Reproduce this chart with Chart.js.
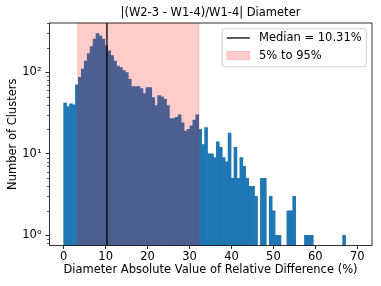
<!DOCTYPE html>
<html><head><meta charset="utf-8">
<style>html,body{margin:0;padding:0;background:#fff;overflow:hidden}canvas{display:block}</style>
<script src="https://cdn.jsdelivr.net/npm/chart.js@4.4.1/dist/chart.umd.min.js"></script>
</head><body>
<canvas id="c" width="381" height="286" style="width:381px;height:286px"></canvas>
<script>
// ---- data ----
const titleText = '|(W2-3 - W1-4)/W1-4| Diameter';
const xLabel = 'Diameter Absolute Value of Relative Difference (%)';
const yLabel = 'Number of Clusters';
const binStart = 0;
const binWidth = 0.7;
const counts = [
  42, 38, 41, 40, 70, 87, 110, 137, 170, 207,
  255, 298, 280, 255, 212, 184, 160, 137, 119, 114,
  105, 99, 82, 67, 67, 67, 63, 55, 65, 65,
  49, 39, 52, 50, 47, 39, 27, 27, 28, 30,
  24, 19, 20, 22, 26, 30, 20, 13, 21, 10,
  10, 9, 14, 12, 9, 8, 18, 5, 12, 5,
  9, 7, 5, 4, 4, 3, 0, 5, 5, 0,
  3, 2, 1, 1, 0, 0, 2, 2, 3, 0,
  0, 0, 1, 1, 1, 0, 0, 0, 0, 0,
  0, 0, 0, 0, 0, 1, 0, 0, 0, 0
];
const xTicks = [0, 10, 20, 30, 40, 50, 60, 70];
const yTicks = [1, 10, 100];
const yTickLabels = ['10\u2070', '10\u00B9', '10\u00B2'];
const medianValue = 10.31;
const spanLow = 3.35;
const spanHigh = 32.23;
const legendLabels = ['Median = 10.31%', '5% to 95%'];
const xRange = [-3.5, 73.5];
const yRange = [0.75, 403];

// ---- style ----
const FONT = '"DejaVu Sans", sans-serif';
const FS = 11.5;
const BAR = '#1f77b4';
const SPAN = 'rgba(255,0,0,0.2)';

const points = counts.map((c, i) => ({ x: binStart + (i + 0.5) * binWidth, y: c > 0 ? c : null }));

const overlay = {
  id: 'overlay',
  afterDatasetsDraw(chart) {
    const { ctx, chartArea: a, scales: { x, y } } = chart;
    ctx.save();
    ctx.beginPath(); ctx.rect(a.left, a.top, a.right - a.left, a.bottom - a.top); ctx.clip();
    // span
    const x0 = x.getPixelForValue(spanLow), x1 = x.getPixelForValue(spanHigh);
    ctx.fillStyle = SPAN;
    ctx.fillRect(x0, a.top, x1 - x0, a.bottom - a.top);
    ctx.strokeStyle = SPAN; ctx.lineWidth = 0.8;
    ctx.strokeRect(x0, a.top, x1 - x0, a.bottom - a.top);
    // median
    const xm = x.getPixelForValue(medianValue);
    ctx.strokeStyle = '#000'; ctx.lineWidth = 1.3;
    ctx.beginPath(); ctx.moveTo(xm, a.top); ctx.lineTo(xm, a.bottom); ctx.stroke();
    ctx.restore();
  },
  afterDraw(chart) {
    const { ctx, chartArea: a, scales: { y } } = chart;
    ctx.save();
    // minor log ticks
    ctx.strokeStyle = 'rgba(0,0,0,0.8)'; ctx.lineWidth = 0.8;
    for (let d = 0.1; d <= 1000; d *= 10) {
      for (let m = 2; m <= 9; m++) {
        const v = m * d;
        if (v < yRange[0] || v > yRange[1]) continue;
        const py = Math.round(y.getPixelForValue(v)) + 0.5;
        ctx.beginPath(); ctx.moveTo(a.left - 2, py); ctx.lineTo(a.left, py); ctx.stroke();
      }
    }
    // frame
    ctx.strokeStyle = '#000'; ctx.lineWidth = 0.8;
    ctx.strokeRect(a.left + 0.5, a.top, a.right - a.left - 0.5, a.bottom - a.top);
    // title
    ctx.fillStyle = '#000';
    ctx.font = FS + 'px ' + FONT;
    ctx.textAlign = 'center'; ctx.textBaseline = 'alphabetic';
    ctx.fillText(titleText, (a.left + a.right) / 2, a.top - 7.5);
    // legend
    const pad = 0.4 * FS, hl = 2 * FS, htp = 0.8 * FS, ls = 0.5 * FS, bap = 0.5 * FS;
    const tw = Math.max(...legendLabels.map(t => ctx.measureText(t).width));
    const w = 2 * pad + hl + htp + tw, h = 2 * pad + 2 * FS + ls;
    const bx = a.right - bap - w, by = a.top + bap;
    ctx.beginPath();
    if (ctx.roundRect) ctx.roundRect(bx, by, w, h, 2.5); else ctx.rect(bx, by, w, h);
    ctx.fillStyle = 'rgba(255,255,255,0.8)'; ctx.fill();
    ctx.strokeStyle = '#cccccc'; ctx.lineWidth = 0.9; ctx.stroke();
    const r1 = by + 0.8 * FS, r2 = r1 + FS + ls + 0.25;
    const hx = bx + pad;
    ctx.strokeStyle = '#000'; ctx.lineWidth = 1.3;
    ctx.beginPath(); ctx.moveTo(hx, r1); ctx.lineTo(hx + hl, r1); ctx.stroke();
    ctx.fillStyle = SPAN; ctx.fillRect(hx, r2 - 0.35 * FS, hl, 0.7 * FS);
    ctx.strokeStyle = SPAN; ctx.lineWidth = 0.8; ctx.strokeRect(hx, r2 - 0.35 * FS, hl, 0.7 * FS);
    ctx.fillStyle = '#000'; ctx.textAlign = 'left'; ctx.textBaseline = 'middle';
    ctx.fillText(legendLabels[0], hx + hl + htp, r1 + 0.5);
    ctx.fillText(legendLabels[1], hx + hl + htp, r2 + 0.5);
    ctx.restore();
  }
};

new Chart(document.getElementById('c').getContext('2d'), {
  type: 'bar',
  data: { datasets: [{ data: points, backgroundColor: BAR, borderWidth: 0, barPercentage: 1, categoryPercentage: 1 }] },
  options: {
    responsive: false, animation: false, devicePixelRatio: 1,
    layout: { padding: { left: 0, right: 9, top: 23, bottom: 0 } },
    plugins: { legend: { display: false }, tooltip: { enabled: false }, title: { display: false } },
    scales: {
      x: {
        type: 'linear', min: xRange[0], max: xRange[1], offset: false,
        afterBuildTicks: s => { s.ticks = xTicks.map(v => ({ value: v })); },
        ticks: { font: { family: FONT, size: FS }, color: '#000', padding: 1, maxRotation: 0, autoSkip: false, callback: v => String(v) },
        grid: { offset: false, drawOnChartArea: false, drawTicks: true, tickLength: 3.5, tickColor: 'rgba(0,0,0,0.85)', tickWidth: 1 },
        border: { display: false },
        title: { display: true, text: xLabel, font: { family: FONT, size: FS }, color: '#000', padding: { top: 0, bottom: 9 } },
        afterFit: s => { s.height = 40.5; }
      },
      y: {
        type: 'logarithmic', min: yRange[0], max: yRange[1],
        afterBuildTicks: s => { s.ticks = yTicks.map(v => ({ value: v })); },
        ticks: { font: { family: FONT, size: FS }, color: '#000', padding: 4, autoSkip: false,
          callback: v => { const i = yTicks.indexOf(v); return i >= 0 ? yTickLabels[i] : ''; } },
        grid: { offset: false, drawOnChartArea: false, drawTicks: true, tickLength: 3.5, tickColor: 'rgba(0,0,0,0.85)', tickWidth: 1 },
        border: { display: false },
        title: { display: true, text: yLabel, font: { family: FONT, size: FS }, color: '#000', padding: { top: 6, bottom: 0 } },
        afterFit: s => { s.width = 49; }
      }
    }
  },
  plugins: [overlay]
});
</script>
</body></html>
